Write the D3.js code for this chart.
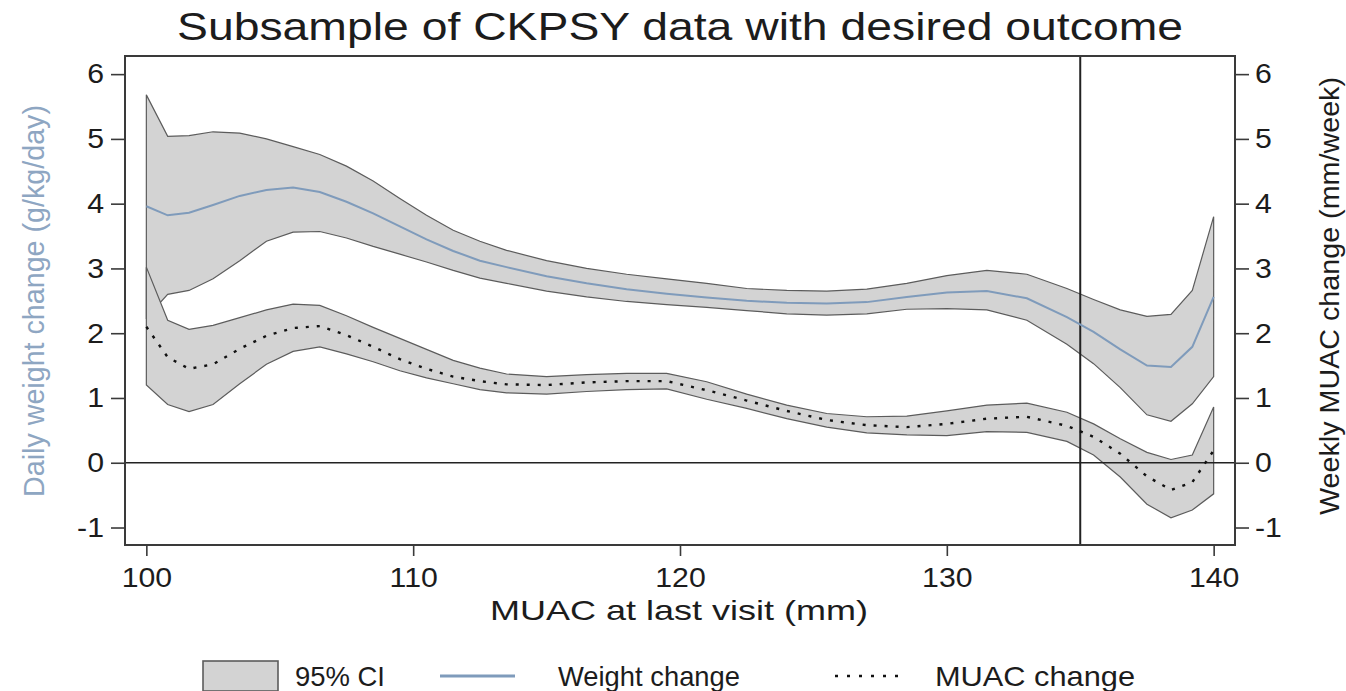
<!DOCTYPE html>
<html>
<head>
<meta charset="utf-8">
<script src="https://cdn.jsdelivr.net/npm/d3@7"></script>
<style>
  html, body { margin: 0; padding: 0; background: #fff; }
  svg { display: block; font-family: "Liberation Sans", Arial, sans-serif; }
</style>
</head>
<body>
<svg id="chart" width="1346" height="691"></svg>
<script>
// MUAC at last visit (mm) – evaluation points of the smoothed fits
const muac = [100, 100.8, 101.6, 102.5, 103.5, 104.5, 105.5, 106.5, 107.5, 108.5,
  109.5, 110.5, 111.5, 112.5, 113.5, 115, 116.5, 118, 119.5, 121,
  122.5, 124, 125.5, 127, 128.5, 130, 131.5, 133, 134.5, 135.5,
  136.5, 137.5, 138.4, 139.2, 140];

// Daily weight change (g/kg/day): estimate and 95% CI
const weightEst = [3.96, 3.82, 3.86, 3.98, 4.12, 4.21, 4.25, 4.18, 4.03, 3.85,
  3.65, 3.45, 3.27, 3.12, 3.02, 2.88, 2.77, 2.68, 2.61, 2.55,
  2.50, 2.47, 2.46, 2.48, 2.56, 2.63, 2.65, 2.54, 2.25, 2.02,
  1.75, 1.50, 1.48, 1.79, 2.56];
const weightHi = [5.68, 5.04, 5.05, 5.11, 5.09, 5.00, 4.88, 4.76, 4.58, 4.35,
  4.08, 3.82, 3.59, 3.42, 3.28, 3.12, 3.00, 2.91, 2.84, 2.77,
  2.69, 2.66, 2.65, 2.68, 2.77, 2.89, 2.97, 2.91, 2.69, 2.52,
  2.36, 2.26, 2.29, 2.66, 3.80];
const weightLo = [2.24, 2.60, 2.66, 2.84, 3.12, 3.42, 3.56, 3.57, 3.47, 3.34,
  3.22, 3.10, 2.97, 2.85, 2.77, 2.65, 2.56, 2.49, 2.44, 2.40,
  2.35, 2.30, 2.28, 2.30, 2.37, 2.38, 2.36, 2.20, 1.83, 1.53,
  1.16, 0.74, 0.64, 0.91, 1.33];

// Weekly MUAC change (mm/week): estimate and 95% CI
const muacEst = [2.10, 1.63, 1.45, 1.52, 1.76, 1.96, 2.08, 2.11, 1.97, 1.79,
  1.60, 1.45, 1.33, 1.26, 1.21, 1.20, 1.24, 1.26, 1.26, 1.12,
  0.96, 0.80, 0.66, 0.58, 0.55, 0.60, 0.68, 0.71, 0.57, 0.40,
  0.14, -0.21, -0.42, -0.30, 0.19];
const muacHi = [3.02, 2.20, 2.06, 2.12, 2.24, 2.36, 2.45, 2.43, 2.27, 2.09,
  1.92, 1.75, 1.58, 1.46, 1.37, 1.33, 1.36, 1.38, 1.38, 1.25,
  1.06, 0.89, 0.76, 0.71, 0.72, 0.80, 0.89, 0.92, 0.78, 0.60,
  0.37, 0.16, 0.05, 0.12, 0.86];
const muacLo = [1.20, 0.90, 0.79, 0.90, 1.22, 1.52, 1.72, 1.79, 1.68, 1.56,
  1.42, 1.31, 1.22, 1.13, 1.08, 1.06, 1.10, 1.13, 1.14, 0.98,
  0.84, 0.68, 0.55, 0.46, 0.43, 0.42, 0.48, 0.47, 0.33, 0.12,
  -0.22, -0.64, -0.85, -0.73, -0.48];

const xTicks = [100, 110, 120, 130, 140];
const yTicks = [-1, 0, 1, 2, 3, 4, 5, 6];
const cutoff = 135;

const titleText = "Subsample of CKPSY data with desired outcome";
const xTitle = "MUAC at last visit (mm)";
const yLeftTitle = "Daily weight change (g/kg/day)";
const yRightTitle = "Weekly MUAC change (mm/week)";
const legendItems = ["95% CI", "Weight change", "MUAC change"];

// ---- layout ----
const plot = { left: 125, right: 1235, top: 56, bottom: 545 };
const bandFill = "#d3d3d3", bandStroke = "#5c5c5c";
const weightColor = "#7f9bbb", axisTitleBlue = "#8ea6c2";
const textColor = "#1c1c1c";
const stretch = 1.1;   // the text is set slightly wide

const svg = d3.select("#chart");

const x = d3.scaleLinear().domain([99.2, 140.8]).range([plot.left, plot.right]);
const y = d3.scaleLinear().domain([-1.27, 6.28]).range([plot.bottom, plot.top]);

const rows = muac.map((m, i) => ({
  m, wE: weightEst[i], wH: weightHi[i], wL: weightLo[i],
  mE: muacEst[i], mH: muacHi[i], mL: muacLo[i]
}));

function widen(sel) {
  sel.each(function () {
    const t = d3.select(this);
    const tx = +t.attr("x") || 0;
    t.attr("x", 0).attr("transform", `translate(${tx},0) scale(${stretch},1)`);
  });
}

// ---- confidence bands ----
const bandW = d3.area().x(d => x(d.m)).y0(d => y(d.wL)).y1(d => y(d.wH));
const bandM = d3.area().x(d => x(d.m)).y0(d => y(d.mL)).y1(d => y(d.mH));

svg.append("path").datum(rows).attr("d", bandW)
  .attr("fill", bandFill).attr("stroke", bandStroke).attr("stroke-width", 1.2);
svg.append("path").datum(rows).attr("d", bandM)
  .attr("fill", bandFill).attr("stroke", bandStroke).attr("stroke-width", 1.2);

// ---- reference lines ----
svg.append("line")
  .attr("x1", plot.left).attr("x2", plot.right)
  .attr("y1", y(0)).attr("y2", y(0))
  .attr("stroke", "#222").attr("stroke-width", 1.6);
svg.append("line")
  .attr("x1", x(cutoff)).attr("x2", x(cutoff))
  .attr("y1", plot.top).attr("y2", plot.bottom)
  .attr("stroke", "#222").attr("stroke-width", 2);

// ---- fitted lines ----
const lineW = d3.line().x(d => x(d.m)).y(d => y(d.wE));
const lineM = d3.line().x(d => x(d.m)).y(d => y(d.mE));
svg.append("path").datum(rows).attr("d", lineW)
  .attr("fill", "none").attr("stroke", weightColor).attr("stroke-width", 2);
svg.append("path").datum(rows).attr("d", lineM)
  .attr("fill", "none").attr("stroke", "#111").attr("stroke-width", 2.4)
  .attr("stroke-dasharray", "3,8");

// ---- frame ----
svg.append("rect")
  .attr("x", plot.left).attr("y", plot.top)
  .attr("width", plot.right - plot.left).attr("height", plot.bottom - plot.top)
  .attr("fill", "none").attr("stroke", "#3a3a3a").attr("stroke-width", 2);

// ---- axes ----
const axisFont = 27.5;
const plain = d => String(d);   // hyphen-minus for negatives
function styleAxis(g) {
  g.select(".domain").remove();
  g.selectAll(".tick line").attr("stroke", "#3a3a3a").attr("stroke-width", 1.6);
  g.selectAll(".tick text").attr("fill", textColor).attr("font-size", axisFont)
    .attr("font-family", "Liberation Sans, Arial, sans-serif");
}

const gx = svg.append("g").attr("transform", `translate(0,${plot.bottom})`)
  .call(d3.axisBottom(x).tickValues(xTicks).tickFormat(plain).tickSize(11).tickPadding(11))
  .call(styleAxis);
gx.selectAll(".tick text").attr("transform", `scale(${stretch},1)`);

const gl = svg.append("g").attr("transform", `translate(${plot.left},0)`)
  .call(d3.axisLeft(y).tickValues(yTicks).tickFormat(plain).tickSize(14).tickPadding(7))
  .call(styleAxis);
gl.selectAll(".tick text").call(widen);

const gr = svg.append("g").attr("transform", `translate(${plot.right},0)`)
  .call(d3.axisRight(y).tickValues(yTicks).tickFormat(plain).tickSize(14).tickPadding(6))
  .call(styleAxis);
gr.selectAll(".tick text").call(widen);

// ---- titles ----
svg.append("text").attr("x", 680).attr("y", 39.5)
  .attr("text-anchor", "middle").attr("font-size", 38.5).attr("fill", textColor)
  .attr("textLength", 1006).attr("lengthAdjust", "spacingAndGlyphs")
  .text(titleText);

svg.append("text").attr("x", 679).attr("y", 620)
  .attr("text-anchor", "middle").attr("font-size", 28).attr("fill", textColor)
  .attr("textLength", 378).attr("lengthAdjust", "spacingAndGlyphs")
  .text(xTitle);

svg.append("text").attr("transform", "translate(44,301) rotate(-90)")
  .attr("text-anchor", "middle").attr("font-size", 30).attr("fill", axisTitleBlue)
  .attr("textLength", 392).attr("lengthAdjust", "spacingAndGlyphs")
  .text(yLeftTitle);

svg.append("text").attr("transform", "translate(1339,296) rotate(-90)")
  .attr("text-anchor", "middle").attr("font-size", 28).attr("fill", textColor)
  .attr("textLength", 438).attr("lengthAdjust", "spacingAndGlyphs")
  .text(yRightTitle);

// ---- legend ----
const lg = svg.append("g");
const keyY = 676;
lg.append("rect").attr("x", 203).attr("y", 661).attr("width", 75).attr("height", 30)
  .attr("fill", bandFill).attr("stroke", bandStroke).attr("stroke-width", 1.6);
lg.append("line").attr("x1", 440).attr("x2", 515).attr("y1", keyY).attr("y2", keyY)
  .attr("stroke", weightColor).attr("stroke-width", 3);
lg.append("line").attr("x1", 835).attr("x2", 907).attr("y1", keyY).attr("y2", keyY)
  .attr("stroke", "#111").attr("stroke-width", 2.4).attr("stroke-dasharray", "3,9");
const legendX = [295, 558, 935];
const legendLen = [90, 182, 200];
lg.selectAll("text.key").data(legendItems).join("text")
  .attr("class", "key")
  .attr("x", (d, i) => legendX[i]).attr("y", 686)
  .attr("font-size", 28).attr("fill", textColor)
  .attr("textLength", (d, i) => legendLen[i]).attr("lengthAdjust", "spacingAndGlyphs")
  .text(d => d);
</script>
</body>
</html>
